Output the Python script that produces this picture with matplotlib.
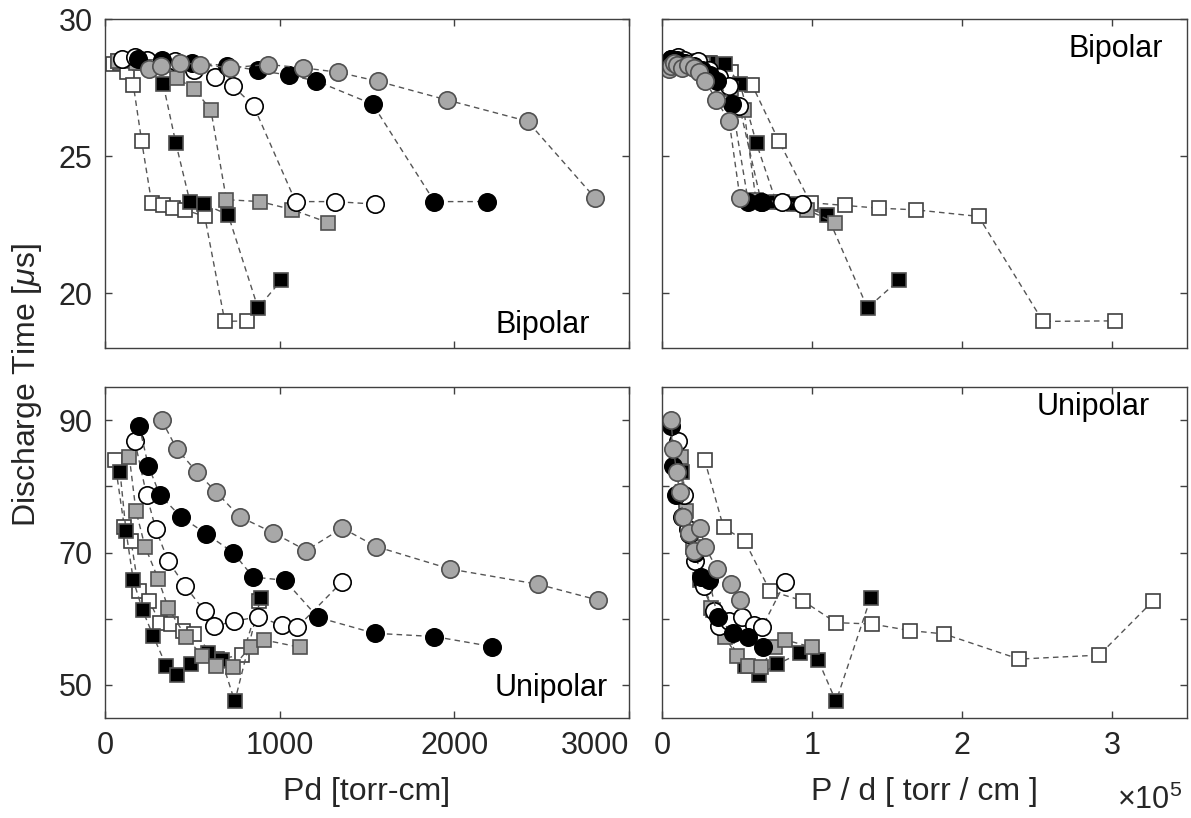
import matplotlib
matplotlib.use("Agg")
import matplotlib.pyplot as plt

plt.rcParams['font.family'] = ['Liberation Sans', 'DejaVu Sans']
plt.rcParams['mathtext.fontset'] = 'custom'
plt.rcParams['mathtext.rm'] = 'Liberation Sans'
plt.rcParams['mathtext.it'] = 'Liberation Sans:italic'

# ---- Bipolar data (top row): Pd [torr-cm], P/d [x1e5 torr/cm], discharge time [us]
bi_ws_pd = [46, 86, 124, 162, 210, 267, 330, 390, 457, 571, 686, 815]
bi_ws_pod = [0.17, 0.32, 0.46, 0.60, 0.78, 0.99, 1.22, 1.445, 1.69, 2.11, 2.54, 3.02]
bi_ws_t = [28.35, 28.4, 28.07, 27.6, 25.54, 23.3, 23.2, 23.1, 23.04, 22.8, 18.97, 18.99]

bi_bs_pd = [75, 130, 200, 270, 333, 406, 486, 566, 705, 876, 1010]
bi_bs_pod = [0.12, 0.20, 0.31, 0.42, 0.52, 0.63, 0.76, 0.88, 1.10, 1.37, 1.58]
bi_bs_t = [28.45, 28.45, 28.4, 28.35, 27.63, 25.46, 23.34, 23.25, 22.86, 19.46, 20.48]

bi_gs_pd = [75, 180, 300, 413, 509, 606, 695, 889, 1070, 1279]
bi_gs_pod = [0.07, 0.16, 0.27, 0.37, 0.46, 0.546, 0.626, 0.80, 0.964, 1.152]
bi_gs_t = [28.45, 28.4, 28.35, 27.85, 27.45, 26.69, 23.41, 23.34, 23.05, 22.57]

bi_wc_pd = [100, 171, 240, 400, 510, 629, 733, 851, 1091, 1318, 1543]
bi_wc_pod = [0.06, 0.104, 0.145, 0.24, 0.31, 0.38, 0.444, 0.516, 0.661, 0.80, 0.935]
bi_wc_t = [28.55, 28.6, 28.5, 28.45, 28.13, 27.87, 27.55, 26.83, 23.34, 23.34, 23.25]

bi_bc_pd = [190, 324, 500, 700, 876, 1053, 1209, 1533, 1886, 2185]
bi_bc_pod = [0.058, 0.099, 0.152, 0.213, 0.267, 0.321, 0.369, 0.467, 0.575, 0.666]
bi_bc_t = [28.53, 28.5, 28.4, 28.3, 28.13, 27.95, 27.74, 26.89, 23.34, 23.34]

bi_gc_pd = [253, 323, 429, 543, 714, 933, 1133, 1333, 1562, 1956, 2419, 2806]
bi_gc_pod = [0.047, 0.06, 0.079, 0.10, 0.132, 0.173, 0.21, 0.247, 0.289, 0.362, 0.448, 0.52]
bi_gc_t = [28.18, 28.28, 28.4, 28.34, 28.22, 28.34, 28.22, 28.06, 27.73, 27.05, 26.27, 23.47]

# ---- Unipolar data (bottom row)
uni_ws_pd = [55, 111, 149, 194, 254, 313, 378, 447, 508, 643, 787, 883]
uni_ws_pod = [0.284, 0.41, 0.55, 0.72, 0.94, 1.16, 1.40, 1.655, 1.88, 2.38, 2.915, 3.27]
uni_ws_t = [84.0, 73.8, 71.8, 64.2, 62.7, 59.4, 59.2, 58.2, 57.7, 53.9, 54.5, 62.6]

uni_bs_pd = [86, 120, 162, 215, 276, 352, 413, 490, 590, 667, 743, 891]
uni_bs_pod = [0.134, 0.19, 0.25, 0.34, 0.43, 0.55, 0.645, 0.766, 0.92, 1.04, 1.16, 1.39]
uni_bs_t = [82.2, 73.3, 65.8, 61.3, 57.4, 52.8, 51.5, 53.1, 54.8, 53.8, 47.5, 63.1]

uni_gs_pd = [139, 177, 229, 305, 362, 463, 558, 638, 733, 834, 909, 1114]
uni_gs_pod = [0.125, 0.16, 0.206, 0.275, 0.326, 0.417, 0.503, 0.575, 0.66, 0.75, 0.82, 1.0]
uni_gs_t = [84.5, 76.3, 70.9, 66.0, 61.6, 57.3, 54.3, 52.8, 52.7, 55.8, 56.8, 55.7]

uni_wc_pd = [171, 238, 291, 362, 457, 571, 625, 739, 876, 1015, 1101, 1358]
uni_wc_pod = [0.104, 0.144, 0.176, 0.219, 0.277, 0.346, 0.379, 0.448, 0.531, 0.615, 0.667, 0.823]
uni_wc_t = [86.8, 78.7, 73.5, 68.7, 65.0, 61.1, 58.9, 59.6, 60.3, 59.0, 58.7, 65.6]

uni_bc_pd = [196, 248, 314, 434, 581, 733, 848, 1029, 1219, 1543, 1886, 2215]
uni_bc_pod = [0.06, 0.076, 0.096, 0.132, 0.177, 0.223, 0.259, 0.314, 0.372, 0.47, 0.575, 0.675]
uni_bc_t = [89.1, 83.1, 78.7, 75.4, 72.8, 70.0, 66.3, 65.8, 60.2, 57.8, 57.3, 55.8]

uni_gc_pd = [324, 410, 524, 634, 771, 962, 1152, 1358, 1552, 1977, 2480, 2825]
uni_gc_pod = [0.06, 0.076, 0.097, 0.117, 0.143, 0.178, 0.213, 0.251, 0.287, 0.366, 0.459, 0.523]
uni_gc_t = [90.0, 85.7, 82.2, 79.2, 75.4, 73.0, 70.3, 73.7, 70.9, 67.5, 65.2, 62.8]

# marker styles: (marker, face, edge, size)
GRAY = '#a8a8a8'
styles = {
    'ws': ('s', 'white', '#404040', 9.5),
    'bs': ('s', 'black', '#505050', 9.5),
    'gs': ('s', GRAY, '#505050', 9.5),
    'wc': ('o', 'white', 'black', 12.5),
    'bc': ('o', 'black', 'black', 12.5),
    'gc': ('o', GRAY, '#505050', 12.5),
}

bipolar = {
    'ws': (bi_ws_pd, bi_ws_pod, bi_ws_t),
    'bs': (bi_bs_pd, bi_bs_pod, bi_bs_t),
    'gs': (bi_gs_pd, bi_gs_pod, bi_gs_t),
    'wc': (bi_wc_pd, bi_wc_pod, bi_wc_t),
    'bc': (bi_bc_pd, bi_bc_pod, bi_bc_t),
    'gc': (bi_gc_pd, bi_gc_pod, bi_gc_t),
}
unipolar = {
    'ws': (uni_ws_pd, uni_ws_pod, uni_ws_t),
    'bs': (uni_bs_pd, uni_bs_pod, uni_bs_t),
    'gs': (uni_gs_pd, uni_gs_pod, uni_gs_t),
    'wc': (uni_wc_pd, uni_wc_pod, uni_wc_t),
    'bc': (uni_bc_pd, uni_bc_pod, uni_bc_t),
    'gc': (uni_gc_pd, uni_gc_pod, uni_gc_t),
}

W, H = 1191, 818
fig = plt.figure(figsize=(W / 100, H / 100), dpi=100)

def box(x0, y0, x1, y1):
    # pixel box -> figure fraction rect
    return [x0 / W, 1 - y1 / H, (x1 - x0) / W, (y1 - y0) / H]

ax_tl = fig.add_axes(box(105, 19, 629, 348))
ax_tr = fig.add_axes(box(662, 19, 1187, 348))
ax_bl = fig.add_axes(box(105, 387, 629, 718))
ax_br = fig.add_axes(box(662, 387, 1187, 718))

def draw(ax, data, col):
    for key in ['ws', 'bs', 'gs', 'wc', 'bc', 'gc']:
        m, fc, ec, ms = styles[key]
        xs = data[key][col]
        ts = data[key][2]
        ax.plot(xs, ts, linestyle=(0, (4, 3)), color='#555555', lw=1.0,
                marker=m, mfc=fc, mec=ec, ms=ms, mew=1.2)

draw(ax_tl, bipolar, 0)
draw(ax_tr, bipolar, 1)
draw(ax_bl, unipolar, 0)
draw(ax_br, unipolar, 1)

for ax in [ax_tl, ax_tr, ax_bl, ax_br]:
    ax.tick_params(direction='in', top=True, right=True, length=5, width=1,
                   color='#404040', labelsize=22, labelcolor='#262626', pad=9)
    for s in ax.spines.values():
        s.set_color('#404040')
        s.set_linewidth(1.0)

for ax in [ax_tl, ax_bl]:
    ax.set_xlim(0, 3000)
    ax.set_xticks([0, 1000, 2000, 3000])
for ax in [ax_tr, ax_br]:
    ax.set_xlim(0, 3.5)
    ax.set_xticks([0, 1, 2, 3])

for ax in [ax_tl, ax_tr]:
    ax.set_ylim(18, 30)
    ax.set_yticks([20, 25, 30])
    ax.set_xticklabels([])
for ax in [ax_bl, ax_br]:
    ax.set_ylim(45, 95)
    ax.set_yticks([50, 60, 70, 80, 90])
ax_bl.set_yticklabels(['50', '', '70', '', '90'])
ax_tr.set_yticklabels([])
ax_br.set_yticklabels([])
ax_bl.set_xticklabels(['0', '1000', '2000', '3000'])
ax_br.set_xticklabels(['0', '1', '2', '3'])
ax_bl.get_xticklabels()[-1].set_ha('right')

ax_bl.set_xlabel('Pd [torr-cm]', fontsize=23, color='#262626', labelpad=12)
ax_br.set_xlabel('P / d [ torr / cm ]', fontsize=23, color='#262626', labelpad=12)
fig.text(1150 / W, 1 - 800 / H, r'$\times10^{5}$', fontsize=22, color='#262626',
         ha='center', va='center')
fig.text(27 / W, 1 - 385 / H, r'Discharge Time [$\mu$s]', fontsize=23, color='#262626',
         rotation=90, ha='center', va='center')

# panel annotations
ax_tl.text(0.925, 0.07, 'Bipolar', transform=ax_tl.transAxes, fontsize=22,
           ha='right', va='center', color='black')
ax_tr.text(0.955, 0.91, 'Bipolar', transform=ax_tr.transAxes, fontsize=22,
           ha='right', va='center', color='black')
ax_bl.text(0.96, 0.09, 'Unipolar', transform=ax_bl.transAxes, fontsize=22,
           ha='right', va='center', color='black')
ax_br.text(0.93, 0.94, 'Unipolar', transform=ax_br.transAxes, fontsize=22,
           ha='right', va='center', color='black')

fig.savefig('out.png', dpi=100)
